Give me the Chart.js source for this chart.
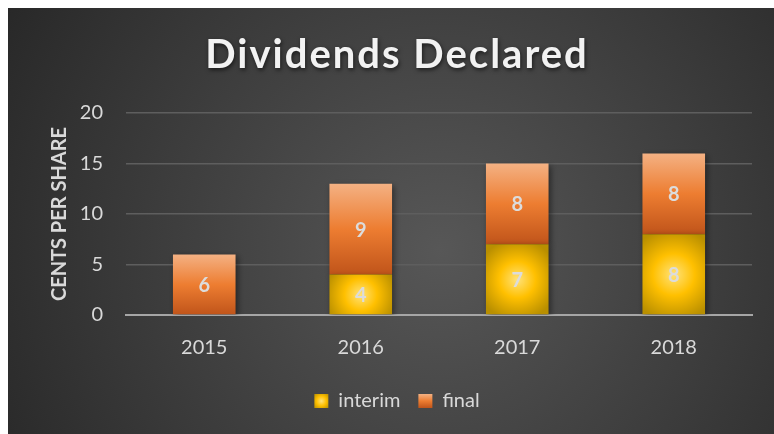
<!DOCTYPE html>
<html><head><meta charset="utf-8">
<script src="https://cdn.jsdelivr.net/npm/chart.js@4"></script>
<style>html,body{margin:0;padding:0;background:#fff;}#wrap{width:774px;height:434px;position:relative;}</style>
</head><body><div id="wrap"><canvas id="c" width="774" height="434"></canvas></div>
<script>
const categories = ['2015', '2016', '2017', '2018'];
const interimValues = [0, 4, 7, 8];
const finalValues = [6, 9, 8, 8];
const yTicks = [0, 5, 10, 15, 20];

function barBox(ctx) {
  const ch = ctx.chart, xs = ch.scales.x, ys = ch.scales.y;
  if (!xs || !ys || !isFinite(ys.top) || ys.bottom - ys.top < 2) return null;
  const i = ctx.dataIndex, di = ctx.datasetIndex;
  let base = 0;
  for (let k = 0; k < di; k++) base += ch.data.datasets[k].data[i] || 0;
  const v = ch.data.datasets[di].data[i] || 0;
  const top = ys.getPixelForValue(base + v), bot = ys.getPixelForValue(base);
  const cx = xs.getPixelForValue(i);
  const w = (xs.right - xs.left) / ch.data.labels.length * 0.4;
  return { top, bot, cx, w };
}
function finalGrad(ctx) {
  const b = barBox(ctx); if (!b) return '#ed7d31';
  const g = ctx.chart.ctx.createLinearGradient(0, b.top, 0, b.bot);
  g.addColorStop(0, '#f4b183'); g.addColorStop(0.5, '#ed7d31'); g.addColorStop(1, '#c0541a');
  return g;
}
function interimGrad(ctx) {
  const b = barBox(ctx); if (!b) return '#ffc000';
  const cy = (b.top + b.bot) / 2;
  const r = Math.max(b.w / 2, (b.bot - b.top) / 2) * 1.15;
  const g = ctx.chart.ctx.createRadialGradient(b.cx, cy, 0, b.cx, cy, r);
  g.addColorStop(0, '#ffe27a'); g.addColorStop(0.45, '#ffc000'); g.addColorStop(1, '#b98f00');
  return g;
}

const bgPlugin = {
  id: 'bg',
  beforeDraw(chart) {
    const c = chart.ctx, W = chart.width, H = chart.height;
    c.save();
    c.fillStyle = '#ffffff'; c.fillRect(0, 0, W, H);
    const g = c.createRadialGradient(440, 250, 0, 440, 250, 520);
    g.addColorStop(0, '#575757'); g.addColorStop(1, '#262626');
    c.fillStyle = g; c.fillRect(8, 8, W - 8, H - 8);
    c.restore();
    const lg = chart.legend;
    if (lg && lg.legendHitBoxes && lg.legendItems) {
      lg.legendItems.forEach((it, i) => {
        const hb = lg.legendHitBoxes[i]; if (!hb) return;
        const bw = lg.options.labels.boxWidth;
        const fs = lg.options.labels.font.size;
        const x0 = hb.left, y0 = hb.top + (fs - bw) / 2;
        let gg;
        if (i === 0) {
          gg = c.createRadialGradient(x0 + bw / 2, y0 + bw / 2, 0, x0 + bw / 2, y0 + bw / 2, bw * 0.7);
          gg.addColorStop(0, '#ffe27a'); gg.addColorStop(0.5, '#ffc000'); gg.addColorStop(1, '#b98f00');
        } else {
          gg = c.createLinearGradient(0, y0, 0, y0 + bw);
          gg.addColorStop(0, '#f4b183'); gg.addColorStop(0.5, '#ed7d31'); gg.addColorStop(1, '#c0541a');
        }
        it.fillStyle = gg;
      });
    }
  },
  afterInit(chart) {
    const tb = chart.titleBlock;
    if (tb) {
      const orig = tb.draw;
      tb.draw = function () {
        const c = chart.ctx; c.save();
        c.letterSpacing = '2px';
        c.shadowColor = 'rgba(0,0,0,0.6)'; c.shadowBlur = 4; c.shadowOffsetX = 1; c.shadowOffsetY = 2;
        orig.apply(this, arguments); c.restore();
      };
    }
  },
  beforeDatasetsDraw(chart) {
    const c = chart.ctx; c.save();
    c.shadowColor = 'rgba(0,0,0,0.45)'; c.shadowBlur = 6; c.shadowOffsetX = 2; c.shadowOffsetY = 2;
  },
  afterDatasetsDraw(chart) {
    const c = chart.ctx; c.restore();
    c.save();
    c.font = 'bold 20px Lato'; c.fillStyle = '#dcdcdc'; c.textAlign = 'center'; c.textBaseline = 'middle';
    chart.data.datasets.forEach((ds, di) => {
      const meta = chart.getDatasetMeta(di);
      meta.data.forEach((bar, i) => {
        const v = ds.data[i]; if (!v) return;
        c.fillText(String(v), bar.x, (bar.y + bar.base) / 2 + 1);
      });
    });
    c.restore();
  }
};

new Chart(document.getElementById('c'), {
  type: 'bar',
  data: {
    labels: categories,
    datasets: [
      { label: 'interim', data: interimValues, backgroundColor: interimGrad, borderWidth: 0 },
      { label: 'final', data: finalValues, backgroundColor: finalGrad, borderWidth: 0 }
    ]
  },
  options: {
    responsive: false, animation: false,
    layout: { padding: { left: 42, right: 22, top: 20, bottom: 13 } },
    datasets: { bar: { categoryPercentage: 1, barPercentage: 0.4 } },
    plugins: {
      title: { display: true, text: 'Dividends Declared', color: '#f2f2f2', font: { family: 'Lato', size: 40, weight: 'bold' }, padding: { top: 11, bottom: 34 } },
      legend: { position: 'bottom', labels: { color: '#d9d9d9', font: { family: 'Lato', size: 20 }, boxWidth: 14, boxHeight: 14, padding: 18 } },
      tooltip: { enabled: false }
    },
    scales: {
      x: {
        stacked: true,
        grid: { display: false },
        border: { display: true, color: '#a6a6a6', width: 2 },
        ticks: { color: '#d9d9d9', font: { family: 'Lato', size: 20 }, padding: 13 }
      },
      y: {
        stacked: true, min: 0, max: 20,
        afterBuildTicks(axis) { axis.ticks = yTicks.map(v => ({ value: v })); },
        afterFit(axis) { axis.width = 84; },
        grid: { color: (ctx) => ctx.tick && ctx.tick.value === 0 ? 'rgba(0,0,0,0)' : '#5e5e5e', lineWidth: 1.5, drawTicks: false },
        border: { display: false },
        ticks: { color: '#d9d9d9', font: { family: 'Lato', size: 20 }, padding: 23 },
        title: { display: true, text: 'CENTS PER SHARE', color: '#d9d9d9', font: { family: 'Lato', size: 20, weight: 'bold' }, padding: { top: 6, bottom: 0 } }
      }
    }
  },
  plugins: [bgPlugin]
});
</script></body></html>
